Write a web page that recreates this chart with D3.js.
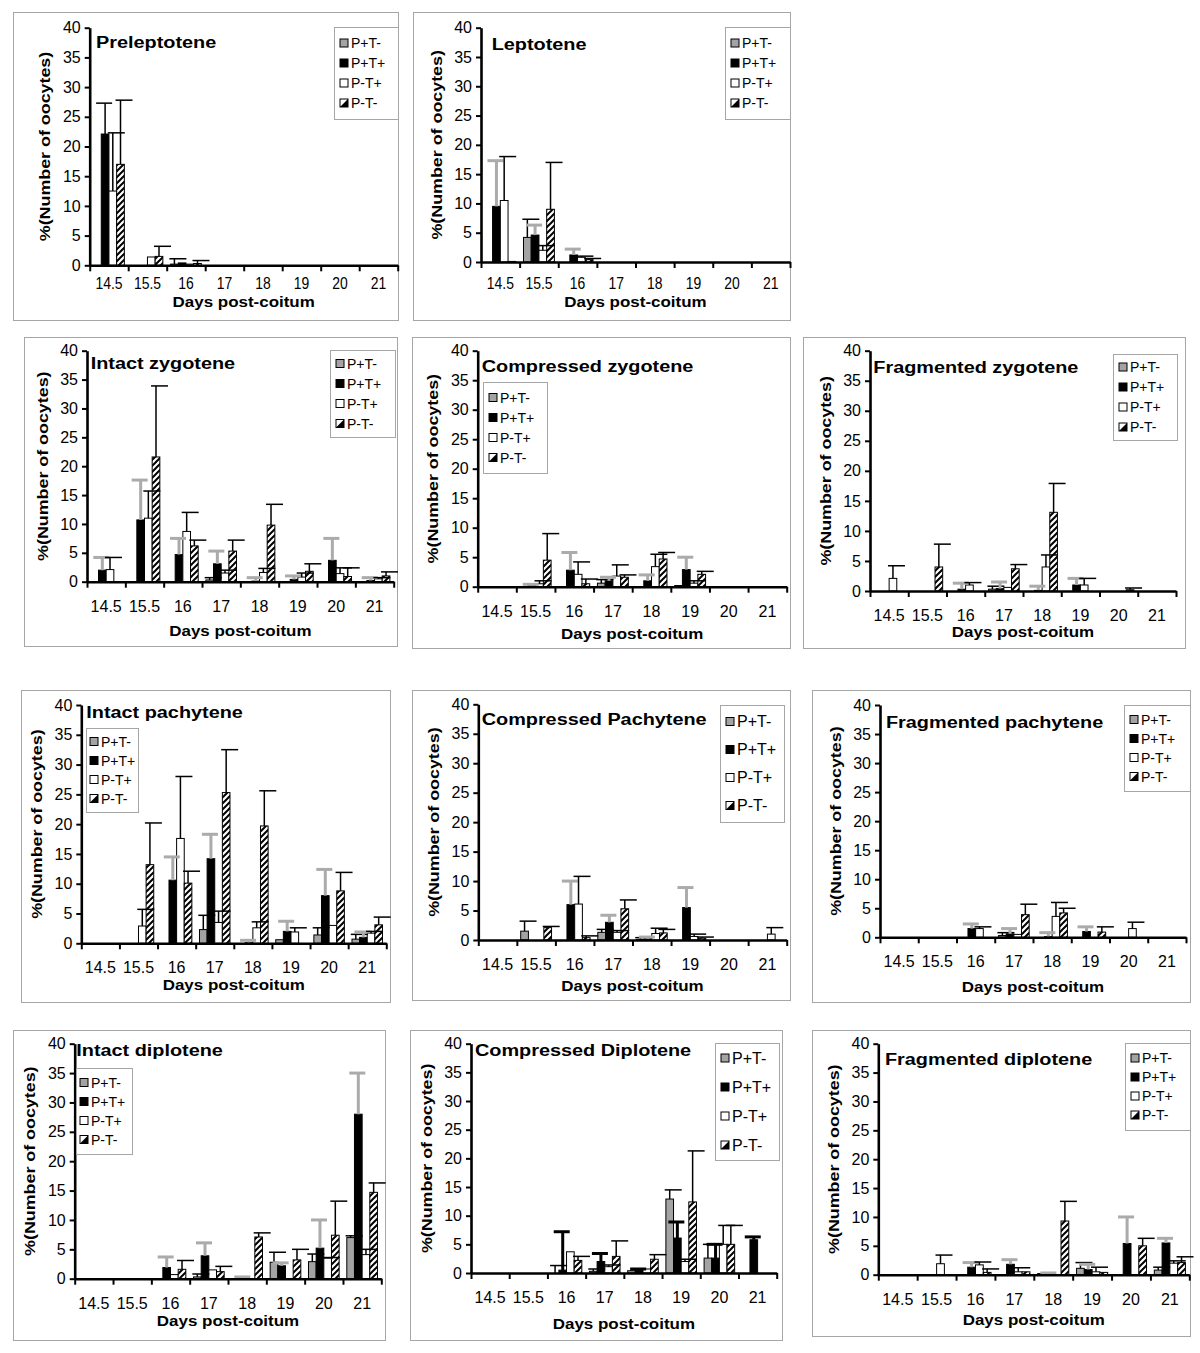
<!DOCTYPE html>
<html><head><meta charset="utf-8">
<script src="https://cdn.jsdelivr.net/npm/d3@7"></script>
<style>body{margin:0;background:#fff} svg{display:block} text{font-family:"Liberation Sans",Arial,sans-serif}</style>
</head><body><svg id="c" width="1200" height="1353"></svg>
<script>
// ---------- data ----------
const days = ["14.5","15.5","16","17","18","19","20","21"];
const groups = ["P+T-","P+T+","P-T+","P-T-"];
const yTicks = [0,5,10,15,20,25,30,35,40];
const xTitle = "Days post-coitum";
const yTitle = "%(Number of oocytes)";

// rows: P+T-, P+T+, P-T+, P-T-   columns: days
const preleptoteneMean = [
  [0,0,0.2,0,0,0,0,0],
  [22.1,0,0.4,0,0,0,0,0],
  [12.5,1.4,0.2,0,0,0,0,0],
  [17.0,1.5,0.3,0,0,0,0,0]];
const preleptoteneUpper = [
  [0,0,1.1,0,0,0,0,0],
  [27.3,0,0.4,0,0,0,0,0],
  [22.3,1.4,0.2,0,0,0,0,0],
  [27.8,3.2,0.8,0,0,0,0,0]];

const leptoteneMean = [
  [0,4.2,0,0,0,0,0,0],
  [9.5,4.6,1.2,0,0,0,0,0],
  [10.5,2.0,0.8,0,0,0,0,0],
  [0.1,9.0,0.4,0,0,0,0,0]];
const leptoteneUpper = [
  [0,7.3,0,0,0,0,0,0],
  [17.3,6.3,2.2,0,0,0,0,0],
  [18.0,2.8,1.0,0,0,0,0,0],
  [0.1,17.0,0.6,0,0,0,0,0]];

const intactZygMean = [
  [0,0,0,0.3,0,0,0,0],
  [2.0,10.7,4.7,3.1,0.1,0.4,3.7,0.2],
  [2.1,11.0,8.7,1.5,1.6,0.8,1.4,0.5],
  [0,21.6,6.2,5.3,9.8,1.8,0.9,1.0]];
const intactZygUpper = [
  [0,0,0,0.7,0,0,0,0],
  [4.2,17.6,7.5,5.3,0.7,1.0,7.5,0.7],
  [4.2,15.7,12.0,2.0,2.3,1.5,2.4,0.7],
  [0,33.9,7.2,7.2,13.4,3.1,2.4,1.7]];

const compZygMean = [
  [0,0,0,0.6,0,0.2,0,0],
  [0,0.2,2.8,1.0,1.0,2.9,0,0],
  [0,0.5,2.1,1.8,3.4,0.6,0,0],
  [0,4.5,0.5,1.6,4.7,2.1,0,0]];
const compZygUpper = [
  [0,0,0,1.2,0,0.2,0,0],
  [0,0.4,5.8,1.6,2.0,5.0,0,0],
  [0,1.0,4.2,3.7,5.5,1.0,0,0],
  [0,9.0,1.3,2.0,5.8,2.6,0,0]];

const fragZygMean = [
  [0,0,0,0.3,0,0,0,0],
  [0,0,0.3,0.4,0.1,1.0,0,0],
  [2.1,0,1.0,0.6,4.0,1.0,0,0],
  [0,4.0,0,3.7,13.1,0,0.2,0]];
const fragZygUpper = [
  [0,0,0,0.8,0,0,0,0],
  [0,0,1.3,1.5,0.8,2.1,0,0],
  [4.2,0,1.4,0.6,6.0,2.1,0,0],
  [0,7.8,0,4.4,17.9,0,0.5,0]];

const intactPachMean = [
  [0,0,0,2.3,0,0.6,1.4,0.7],
  [0,0,10.6,14.2,0.1,2.0,8.0,1.0],
  [0,2.9,17.6,3.5,2.6,1.9,3.0,1.7],
  [0,13.2,10.1,25.3,19.7,0,8.8,3.1]];
const intactPachUpper = [
  [0,0,0,4.7,0,0.6,2.6,1.5],
  [0,0,14.5,18.3,0.5,3.7,12.4,1.9],
  [0,5.7,28.0,5.4,3.6,2.6,3.0,2.0],
  [0,20.2,12.1,32.5,25.6,0,11.9,4.4]];

const compPachMean = [
  [0,1.5,0,1.3,0.1,0,0,0],
  [0,0,6.0,3.0,0.2,5.5,0,0],
  [0,0,6.1,1.3,1.1,0.6,0,1.0],
  [0,2.1,0.4,5.3,1.2,0.3,0,0]];
const compPachUpper = [
  [0,3.2,0,1.8,0.4,0,0,0],
  [0,0,10.0,4.2,0.5,8.9,0,0],
  [0,0,10.8,1.6,2.0,1.0,0,2.1],
  [0,2.3,0.7,6.8,1.8,0.5,0,0]];

const fragPachMean = [
  [0,0,0,0.3,0,0,0,0],
  [0,0,1.5,0.6,0.1,1.0,0,0],
  [0,0,1.5,0.5,3.6,0,1.5,0],
  [0,0,0,3.9,4.2,0.9,0,0]];
const fragPachUpper = [
  [0,0,0,0.8,0,0,0,0],
  [0,0,2.3,1.5,0.8,1.8,0,0],
  [0,0,1.8,0.5,6.0,0,2.6,0],
  [0,0,0,5.7,5.0,1.8,0,0]];

const intactDipMean = [
  [0,0,0,0.3,0,2.8,2.9,7.0],
  [0,0,1.9,3.9,0,2.2,5.2,28.0],
  [0,0,0.7,1.5,0,0,3.5,4.1],
  [0,0,1.6,1.2,7.1,3.2,7.4,14.7]];
const intactDipUpper = [
  [0,0,0,0.8,0,4.5,4.2,7.3],
  [0,0,3.7,6.1,0.3,2.7,10.0,35.0],
  [0,0,0.7,1.5,0,0,3.6,5.0],
  [0,0,3.1,2.1,7.8,5.0,13.2,16.3]];

const compDipMean = [
  [0,0,0,0.3,0.4,12.9,2.6,0],
  [0,0,0.5,2.0,0.5,6.1,2.6,5.8],
  [0,0,3.7,1.1,0.7,2.0,5.0,0],
  [0,0,2.2,2.9,2.4,12.4,5.0,0]];
const compDipUpper = [
  [0,0,1.3,0.7,0.4,14.5,5.0,0],
  [0,0,7.2,3.4,0.7,8.9,5.0,6.3],
  [0,0,3.7,1.4,0.7,2.4,8.3,0],
  [0,0,2.9,5.6,3.2,21.3,8.3,0]];

const fragDipMean = [
  [0,0,0,0,0.2,1.1,0,0.8],
  [0,0,1.3,1.8,0,0.9,5.4,5.5],
  [0,1.9,1.7,0.5,0,0.5,0,2.0],
  [0,0,0.4,0.5,9.3,0.4,5.0,2.1]];
const fragDipUpper = [
  [0,0,0,0,0.2,2.1,0,1.3],
  [0,0,2.1,2.6,0.3,1.8,10.0,6.3],
  [0,3.4,2.2,1.2,0,1.3,0,2.4],
  [0,0,1.0,0.5,12.7,0.4,6.3,3.1]];

// ---------- layout ----------
const GRAY_ERR = "#ababab";
const panels = [
 {title:"Preleptotene", mean:preleptoteneMean, upper:preleptoteneUpper, box:[13,12,385,308], plot:[89.7,397.7,27.7,265.3], titleAt:[96,47.7], legend:[334,27,64,92,20,14], tickDy:24, xTitleDy:42, tickFit:0.87, blackErr:"#000", blackErrW:1.5},
 {title:"Leptotene", mean:leptoteneMean, upper:leptoteneUpper, box:[413,12,377,308], plot:[481,790,27.7,262], titleAt:[491.7,50.3], legend:[725,27,65,92,20,14], tickDy:27, xTitleDy:45, tickFit:0.87},
 {title:"Intact zygotene", mean:intactZygMean, upper:intactZygUpper, box:[24,337,373,309], plot:[87,393.7,350.7,581.7], titleAt:[90.7,369.3], legend:[330,350,65,87,20,14], xTitleDy:54},
 {title:"Compressed zygotene", mean:compZygMean, upper:compZygUpper, box:[412,337,378,311], plot:[477.7,786.7,350.7,586.7], titleAt:[481.7,371.7], legend:[483,382,64,91,20,14], xTitleDy:52},
 {title:"Fragmented zygotene", mean:fragZygMean, upper:fragZygUpper, box:[803,337,382,311], plot:[870,1176,350.7,591], titleAt:[873.3,373.3], legend:[1113,354,64,86,20,14], xTitleDy:46},
 {title:"Intact pachytene", mean:intactPachMean, upper:intactPachUpper, box:[21,690,369,312], plot:[81.3,386.3,705,943.3], titleAt:[86.3,718.3], legend:[86,728,52,84,19,14], xTitleDy:47},
 {title:"Compressed Pachytene", mean:compPachMean, upper:compPachUpper, box:[412,690,378,310], plot:[478.3,786.7,704.3,940], titleAt:[481.7,725], legend:[720,705,64,117,28,16], xTitleDy:50.5},
 {title:"Fragmented pachytene", mean:fragPachMean, upper:fragPachUpper, box:[812,690,378,312], plot:[880,1186,705,937.3], titleAt:[886,728.3], legend:[1124,705,66,86,19,14], xTitleDy:55},
 {title:"Intact diplotene", mean:intactDipMean, upper:intactDipUpper, box:[13,1030,372,310], plot:[74.7,381.3,1043.7,1278.7], titleAt:[76.3,1056.3], legend:[76,1068,56,86,19,14], xTitleDy:47},
 {title:"Compressed Diplotene", mean:compDipMean, upper:compDipUpper, box:[410,1030,372,310], plot:[471,776.7,1043.7,1273], titleAt:[475,1056.3], legend:[715,1043,64,117,29,16], xTitleDy:55.5, blackErr:"#000", blackErrW:3},
 {title:"Fragmented diplotene", mean:fragDipMean, upper:fragDipUpper, box:[812,1030,378,306], plot:[878.3,1189.3,1043.7,1274.7], titleAt:[885,1064.7], legend:[1125,1043,65,87,19,14], xTitleDy:50}
];

const fills = ["#a3a3a3","#000","#fff","url(#hatch)"];

const svg = d3.select("#c");
const defs = svg.append("defs");
const pat = defs.append("pattern").attr("id","hatch").attr("patternUnits","userSpaceOnUse")
  .attr("width",6).attr("height",6);
pat.append("rect").attr("width",6).attr("height",6).attr("fill","#fff");
pat.append("path").attr("d","M0,6 L6,0 M-1.5,1.5 L1.5,-1.5 M4.5,7.5 L7.5,4.5")
  .attr("stroke","#000").attr("stroke-width",2);

function stretch(sel, f){
  sel.each(function(){
    const L = this.getComputedTextLength();
    d3.select(this).attr("textLength", L*f).attr("lengthAdjust","spacingAndGlyphs");
  });
}

panels.forEach(p => {
  const g = svg.append("g");
  const [bx,by,bw,bh] = p.box;
  g.append("rect").attr("x",bx+0.5).attr("y",by+0.5).attr("width",bw).attr("height",bh)
    .attr("fill","none").attr("stroke","#a6a6a6").attr("stroke-width",1);

  const [x0,x1,yTop,y0] = p.plot;
  const x = d3.scaleBand().domain(days).range([x0,x1]).padding(0);
  const xs = d3.scaleBand().domain(groups).range([0,x.bandwidth()]).paddingInner(0).paddingOuter(0.5);
  const xi = d3.scaleLinear().domain([0,days.length]).range([x0,x1]);
  const y = d3.scaleLinear().domain([0,40]).range([y0,yTop]);

  // bars
  groups.forEach((s,si) => {
    days.forEach((d,di) => {
      const v = p.mean[si][di];
      if (v <= 0) return;
      g.append("rect")
        .attr("x", x(d)+xs(s)).attr("y", y(v))
        .attr("width", xs.bandwidth()).attr("height", y(0)-y(v))
        .attr("fill", fills[si]).attr("stroke","#000").attr("stroke-width",1);
    });
  });
  // error bars
  groups.forEach((s,si) => {
    let col = "#000", w = 1.5, cl = 5, cr = 12;
    if (si === 1) { col = p.blackErr || GRAY_ERR; w = p.blackErrW || 3; cl = 9; cr = 7; }
    days.forEach((d,di) => {
      const v = p.mean[si][di], u = p.upper[si][di];
      if (u <= v + 0.05) return;
      const cx = x(d)+xs(s)+xs.bandwidth()/2;
      g.append("line").attr("x1",cx).attr("x2",cx).attr("y1",y(v)).attr("y2",y(u))
        .attr("stroke",col).attr("stroke-width",w);
      g.append("line").attr("x1",cx-cl).attr("x2",cx+cr).attr("y1",y(u)).attr("y2",y(u))
        .attr("stroke",col).attr("stroke-width",w);
    });
  });

  // y axis
  const ya = g.append("g").attr("transform",`translate(${x0},0)`)
    .call(d3.axisLeft(y).tickValues(yTicks).tickSizeInner(5).tickSizeOuter(0).tickPadding(4));
  ya.select(".domain").attr("stroke","#000").attr("stroke-width",2.6);
  ya.selectAll(".tick line").attr("stroke","#000").attr("stroke-width",2);
  ya.selectAll(".tick text").attr("font-size",16).attr("fill","#000")
    .style("font-family",'"Liberation Sans",Arial,sans-serif');

  // x axis: boundary ticks + centred labels
  const xa = g.append("g").attr("transform",`translate(0,${y0})`)
    .call(d3.axisBottom(xi).tickValues(d3.range(days.length+1)).tickFormat("").tickSizeInner(6).tickSizeOuter(0));
  xa.select(".domain").attr("stroke","#000").attr("stroke-width",2.6);
  xa.selectAll(".tick line").attr("stroke","#000").attr("stroke-width",2);
  const xl = g.append("g").attr("transform",`translate(0,${y0})`)
    .call(d3.axisBottom(x).tickSize(0).tickPadding(0));
  xl.select(".domain").remove();
  const tl = xl.selectAll(".tick text").attr("font-size",16).attr("fill","#000")
    .attr("dy",null).attr("y",p.tickDy || 30)
    .style("font-family",'"Liberation Sans",Arial,sans-serif');
  if (p.tickFit) stretch(tl, p.tickFit);

  // axis titles
  const xt = g.append("text").attr("x",(x0+x1)/2).attr("y",y0+p.xTitleDy)
    .attr("text-anchor","middle").attr("font-size",15).attr("font-weight","bold").text(xTitle);
  stretch(xt, 1.13);
  const yt = g.append("text")
    .attr("transform",`translate(${x0-45},${(yTop+y0)/2}) rotate(-90)`)
    .attr("text-anchor","middle").attr("dominant-baseline","central")
    .attr("font-size",15).attr("font-weight","bold").text(yTitle);
  stretch(yt, 1.19);

  // panel title
  const tt = g.append("text").attr("x",p.titleAt[0]).attr("y",p.titleAt[1])
    .attr("font-size",16).attr("font-weight","bold").text(p.title);
  stretch(tt, 1.24);

  // legend
  const [lx,ly,lw,lh,sp,fs] = p.legend;
  const lg = g.append("g");
  lg.append("rect").attr("x",lx+0.5).attr("y",ly+0.5).attr("width",lw).attr("height",lh)
    .attr("fill","#fff").attr("stroke","#a6a6a6");
  const sx = lw < 60 ? 4 : 6, tx = lw < 60 ? 15 : 17, ss = 8;
  const first = ly + (lh - 3*sp)/2;
  groups.forEach((s,si) => {
    const cy = first + si*sp;
    lg.append("rect").attr("x",lx+sx).attr("y",cy-ss/2).attr("width",ss).attr("height",ss)
      .attr("fill", si===3 ? "#fff" : fills[si]).attr("stroke","#000").attr("stroke-width",1);
    if (si===3) {
      lg.append("path").attr("d",`M${lx+sx+ss},${cy-ss/2} L${lx+sx+ss},${cy+ss/2} L${lx+sx},${cy+ss/2} Z`)
        .attr("fill","#000");
    }
    lg.append("text").attr("x",lx+tx).attr("y",cy).attr("dominant-baseline","central")
      .attr("font-size",fs).text(s);
  });
});
</script>
</body></html>
